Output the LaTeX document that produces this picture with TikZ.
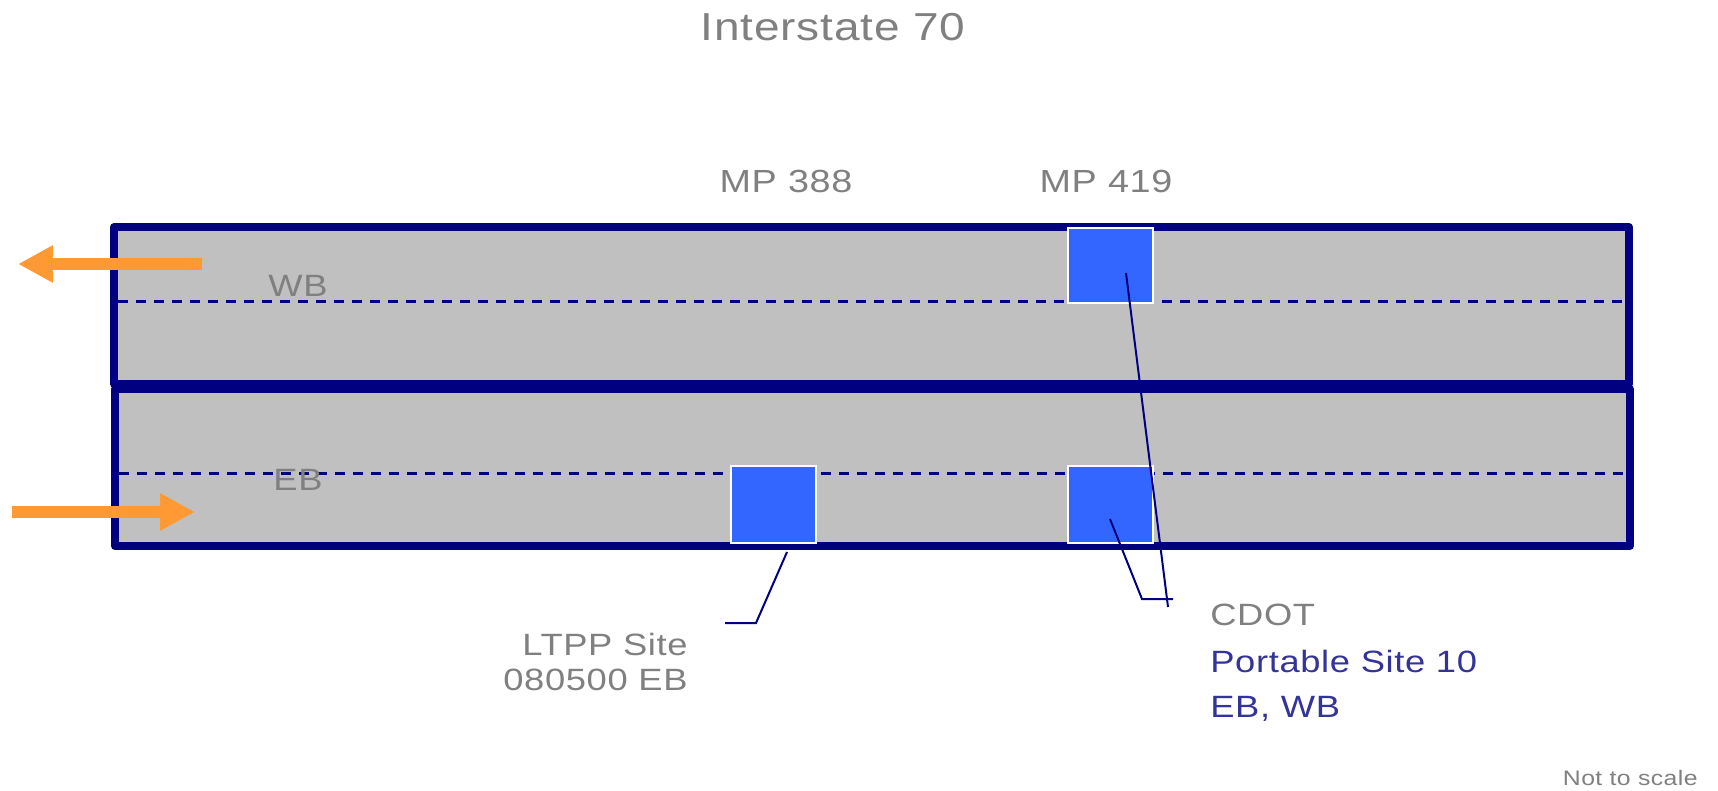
\documentclass[tikz,border=0pt]{standalone}
\usepackage{fontspec}
\setmainfont{Liberation Sans}[FakeStretch=1.18,LetterSpace=2]
\usetikzlibrary{arrows.meta}
\definecolor{navyC}{HTML}{000080}
\definecolor{roadC}{HTML}{C0C0C0}
\definecolor{siteC}{HTML}{3366FF}
\definecolor{orangeC}{HTML}{FF9933}
\definecolor{grayT}{HTML}{808080}
\definecolor{blueT}{HTML}{333399}
\tikzset{
  road/.style={draw=navyC, fill=roadC, line width=4pt, line join=round, rectangle,
    minimum width=757.5pt, minimum height=78.5pt, inner sep=0pt},
  lanedash/.style={draw=navyC, line width=1.5pt, dash pattern=on 5pt off 4pt},
  site/.style={draw=white, fill=siteC, line width=1pt, rectangle, inner sep=0pt,
    minimum width=42.5pt},
  callout/.style={draw=navyC, line width=1pt},
  flow/.style={draw=orangeC, line width=6pt, -{Triangle[length=17.5pt,width=17.5pt]}},
  gtext/.style={text=grayT, inner sep=0pt, font=\fontsize{15.4pt}{18pt}\selectfont},
  btext/.style={text=blueT, inner sep=0pt, font=\fontsize{15.4pt}{18pt}\selectfont},
}
\begin{document}
\begin{tikzpicture}[x=0.5pt,y=-0.5pt]
\useasboundingbox (0,0) rectangle (1718,791);
% roadways
\node[road] (wbroad) at (871.5,305.5) {};
\node[road] (ebroad) at (872.5,467.5) {};
% lane lines
\coordinate (wbl1) at (118,301);
\coordinate (wbl2) at (1625,301);
\coordinate (ebl1) at (119,473);
\coordinate (ebl2) at (1627,473);
\draw[lanedash] (wbl1) -- (wbl2);
\draw[lanedash] (ebl1) -- (ebl2);
% sites
\node[site, minimum height=37.5pt] (wbsite) at (1110.5,265.5) {};
\node[site, minimum height=38.5pt] (ltpp) at (773.5,504.5) {};
\node[site, minimum height=38.5pt] (ebsite) at (1110.5,504.5) {};
% direction labels
\node[gtext, anchor=base] (wblab) at (298,297) {WB};
\node[gtext, anchor=base] (eblab) at (298,490) {EB};
% titles
\node[text=grayT, inner sep=0pt, anchor=base, font=\fontsize{19.5pt}{22pt}\selectfont] (title) at (833,41) {Interstate 70};
\node[text=grayT, inner sep=0pt, anchor=base, font=\fontsize{16pt}{19pt}\selectfont] (mp388) at (786,193) {MP 388};
\node[text=grayT, inner sep=0pt, anchor=base, font=\fontsize{16pt}{19pt}\selectfont] (mp419) at (1106,193) {MP 419};
% LTPP labels
\node[gtext, anchor=base east] (ltpp1) at (688,655) {LTPP Site};
\node[gtext, anchor=base east] (ltpp2) at (688,690) {080500 EB};
% CDOT labels
\node[gtext, anchor=base west] (cdot1) at (1210,625) {CDOT};
\node[btext, anchor=base west] (cdot2) at (1210,672) {Portable Site 10};
\node[btext, anchor=base west] (cdot3) at (1210,717) {EB, WB};
\node[text=grayT, inner sep=0pt, anchor=base east, font=\fontsize{10.5pt}{12pt}\selectfont] (nts) at (1698,785) {Not to scale};
% callouts
\coordinate (c1a) at (1126,273);
\coordinate (c1b) at (1168,607);
\coordinate (c2a) at (1110,519);
\coordinate (c2b) at (1142,599);
\coordinate (c2c) at (1173,599);
\coordinate (c3a) at (787,552);
\coordinate (c3b) at (756,623);
\coordinate (c3c) at (725,623);
\draw[callout] (c1a) -- (c1b);
\draw[callout] (c2a) -- (c2b) -- (c2c);
\draw[callout] (c3a) -- (c3b) -- (c3c);
% traffic direction arrows
\coordinate (wbA) at (202,264);
\coordinate (wbB) at (18,264);
\coordinate (ebA) at (12,512);
\coordinate (ebB) at (195,512);
\draw[flow] (wbA) -- (wbB);
\draw[flow] (ebA) -- (ebB);
\end{tikzpicture}
\end{document}
